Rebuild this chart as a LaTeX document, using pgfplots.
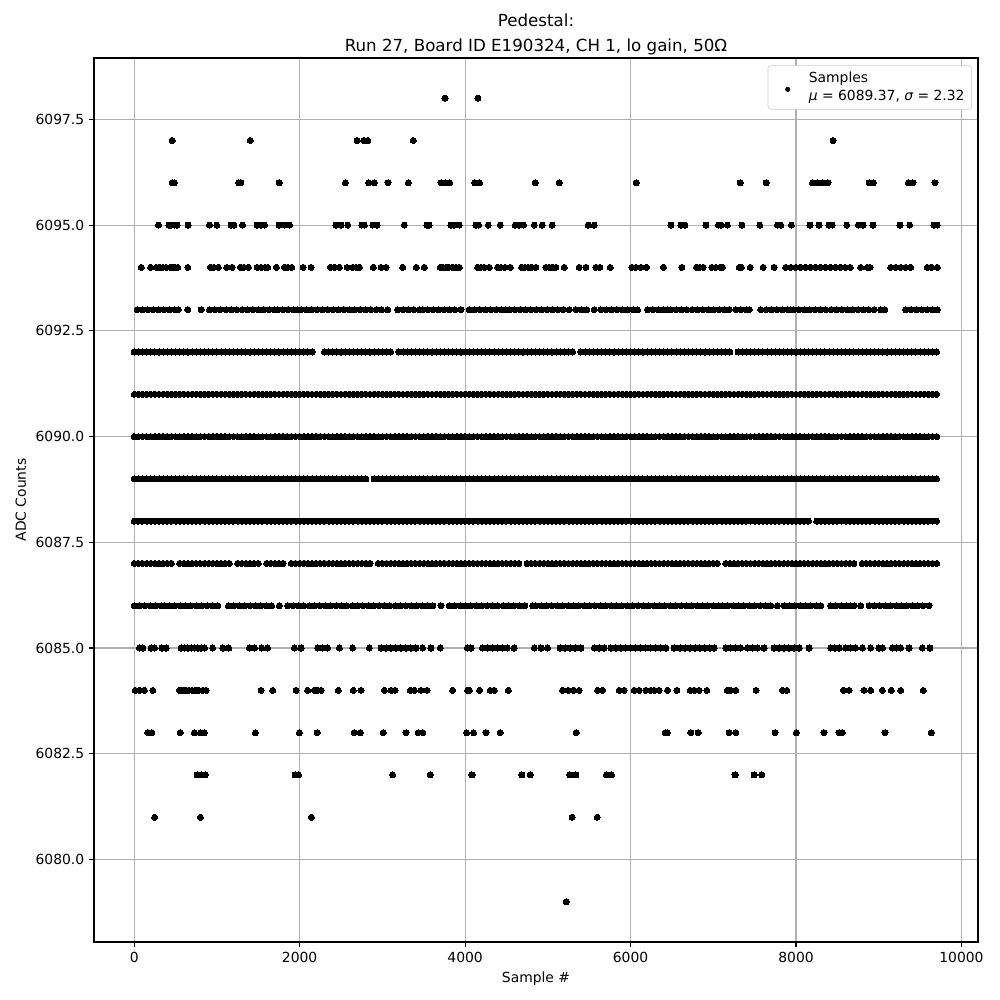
\documentclass[border=0pt]{standalone}
\usepackage{pgfplots}
\pgfplotsset{compat=1.18}
\usepackage{pgfplotstable}
\usepackage{fontspec}
\setmainfont{DejaVu Sans}
\definecolor{gridgray}{HTML}{B0B0B0}
\pgfplotsset{dots/.style={only marks, mark=*, mark size=2.2pt, color=black, mark options={draw=black, fill=black, line width=0pt}}}

\pgfplotstableread{
x a b c d e f
0 6087 6088 6089 6090 6091 6092
50 6087 6088 6089 6090 6091 6092
100 6087 6088 6089 6090 6091 6092
150 6087 6088 6089 6090 6091 6092
200 6087 6088 6089 6090 6091 6092
250 6087 6088 6089 6090 6091 6092
300 6087 6088 6089 6090 6091 6092
350 6087 6088 6089 6090 6091 6092
400 6087 6088 6089 6090 6091 6092
450 6087 6088 6089 6090 6091 6092
500 nan 6088 6089 6090 6091 6092
550 6087 6088 6089 6090 6091 6092
600 6087 6088 6089 6090 6091 6092
650 6087 6088 6089 6090 6091 6092
700 6087 6088 6089 6090 6091 6092
750 6087 6088 6089 6090 6091 6092
800 6087 6088 6089 6090 6091 6092
850 6087 6088 6089 6090 6091 6092
900 6087 6088 6089 6090 6091 6092
950 6087 6088 6089 6090 6091 6092
1000 6087 6088 6089 6090 6091 6092
1050 6087 6088 6089 6090 6091 6092
1100 6087 6088 6089 6090 6091 6092
1150 6087 6088 6089 6090 6091 6092
1200 nan 6088 6089 6090 6091 6092
1250 6087 6088 6089 6090 6091 6092
1300 6087 6088 6089 6090 6091 6092
1350 6087 6088 6089 6090 6091 6092
1400 6087 6088 6089 6090 6091 6092
1450 6087 6088 6089 6090 6091 6092
1500 6087 6088 6089 6090 6091 6092
1550 nan 6088 6089 6090 6091 6092
1600 6087 6088 6089 6090 6091 6092
1650 6087 6088 6089 6090 6091 6092
1700 6087 6088 6089 6090 6091 6092
1750 6087 6088 6089 6090 6091 6092
1800 6087 6088 6089 6090 6091 6092
1850 nan 6088 6089 6090 6091 6092
1900 6087 6088 6089 6090 6091 6092
1950 6087 6088 6089 6090 6091 6092
2000 6087 6088 6089 6090 6091 6092
2050 6087 6088 6089 6090 6091 6092
2100 6087 6088 6089 6090 6091 6092
2150 6087 6088 6089 6090 6091 6092
2200 6087 6088 6089 6090 6091 nan
2250 6087 6088 6089 6090 6091 nan
2300 6087 6088 6089 6090 6091 6092
2350 6087 6088 6089 6090 6091 6092
2400 6087 6088 6089 6090 6091 6092
2450 6087 6088 6089 6090 6091 6092
2500 6087 6088 6089 6090 6091 6092
2550 6087 6088 6089 6090 6091 6092
2600 6087 6088 6089 6090 6091 6092
2650 6087 6088 6089 6090 6091 6092
2700 6087 6088 6089 6090 6091 6092
2750 6087 6088 6089 6090 6091 6092
2800 6087 6088 6089 6090 6091 6092
2850 6087 6088 nan 6090 6091 6092
2900 nan 6088 6089 6090 6091 6092
2950 6087 6088 6089 6090 6091 6092
3000 6087 6088 6089 6090 6091 6092
3050 6087 6088 6089 6090 6091 6092
3100 6087 6088 6089 6090 6091 6092
3150 6087 6088 6089 6090 6091 nan
3200 6087 6088 6089 6090 6091 6092
3250 6087 6088 6089 6090 6091 6092
3300 6087 6088 6089 6090 6091 6092
3350 6087 6088 6089 6090 6091 6092
3400 6087 6088 6089 6090 6091 6092
3450 6087 6088 6089 6090 6091 6092
3500 6087 6088 6089 6090 6091 6092
3550 6087 6088 6089 6090 6091 6092
3600 6087 6088 6089 6090 6091 6092
3650 6087 6088 6089 6090 6091 6092
3700 6087 6088 6089 6090 6091 6092
3750 6087 6088 6089 6090 6091 6092
3800 6087 6088 6089 6090 6091 6092
3850 6087 6088 6089 6090 6091 6092
3900 6087 6088 6089 6090 6091 6092
3950 6087 6088 6089 6090 6091 6092
4000 6087 6088 6089 6090 6091 6092
4050 6087 6088 6089 6090 6091 6092
4100 6087 6088 6089 6090 6091 6092
4150 6087 6088 6089 6090 6091 6092
4200 6087 6088 6089 6090 6091 6092
4250 6087 6088 6089 6090 6091 6092
4300 6087 6088 6089 6090 6091 6092
4350 6087 6088 6089 6090 6091 6092
4400 6087 6088 6089 6090 6091 6092
4450 6087 6088 6089 6090 6091 6092
4500 6087 6088 6089 6090 6091 6092
4550 6087 6088 6089 6090 6091 6092
4600 6087 6088 6089 6090 6091 6092
4650 6087 6088 6089 6090 6091 6092
4700 nan 6088 6089 6090 6091 6092
4750 6087 6088 6089 6090 6091 6092
4800 6087 6088 6089 6090 6091 6092
4850 6087 6088 6089 6090 6091 6092
4900 6087 6088 6089 6090 6091 6092
4950 6087 6088 6089 6090 6091 6092
5000 6087 6088 6089 6090 6091 6092
5050 6087 6088 6089 6090 6091 6092
5100 6087 6088 6089 6090 6091 6092
5150 6087 6088 6089 6090 6091 6092
5200 6087 6088 6089 6090 6091 6092
5250 6087 6088 6089 6090 6091 6092
5300 6087 6088 6089 6090 6091 6092
5350 6087 6088 6089 6090 6091 nan
5400 6087 6088 6089 6090 6091 6092
5450 6087 6088 6089 6090 6091 6092
5500 6087 6088 6089 6090 6091 6092
5550 6087 6088 6089 6090 6091 6092
5600 6087 6088 6089 6090 6091 6092
5650 6087 6088 6089 6090 6091 6092
5700 6087 6088 6089 6090 6091 6092
5750 6087 6088 6089 6090 6091 6092
5800 6087 6088 6089 6090 6091 6092
5850 6087 6088 6089 6090 6091 6092
5900 6087 6088 6089 6090 6091 6092
5950 6087 6088 6089 6090 6091 6092
6000 6087 6088 6089 6090 6091 6092
6050 6087 6088 6089 6090 6091 6092
6100 6087 6088 6089 6090 6091 6092
6150 6087 6088 6089 6090 6091 6092
6200 6087 6088 6089 6090 6091 6092
6250 6087 6088 6089 6090 6091 6092
6300 6087 6088 6089 6090 6091 6092
6350 6087 6088 6089 6090 6091 6092
6400 6087 6088 6089 6090 6091 6092
6450 6087 6088 6089 6090 6091 6092
6500 6087 6088 6089 6090 6091 6092
6550 6087 6088 6089 6090 6091 6092
6600 6087 6088 6089 6090 6091 6092
6650 6087 6088 6089 6090 6091 6092
6700 6087 6088 6089 6090 6091 6092
6750 6087 6088 6089 6090 6091 6092
6800 6087 6088 6089 6090 6091 6092
6850 6087 6088 6089 6090 6091 6092
6900 6087 6088 6089 6090 6091 6092
6950 6087 6088 6089 6090 6091 6092
7000 6087 6088 6089 6090 6091 6092
7050 6087 6088 6089 6090 6091 6092
7100 nan 6088 6089 6090 6091 6092
7150 6087 6088 6089 6090 6091 6092
7200 6087 6088 6089 6090 6091 6092
7250 6087 6088 6089 6090 6091 nan
7300 6087 6088 6089 6090 6091 6092
7350 6087 6088 6089 6090 6091 6092
7400 6087 6088 6089 6090 6091 6092
7450 6087 6088 6089 6090 6091 6092
7500 6087 6088 6089 6090 6091 6092
7550 6087 6088 6089 6090 6091 6092
7600 6087 6088 6089 6090 6091 6092
7650 6087 6088 6089 6090 6091 6092
7700 6087 6088 6089 6090 6091 6092
7750 6087 6088 6089 6090 6091 6092
7800 6087 6088 6089 6090 6091 6092
7850 6087 6088 6089 6090 6091 6092
7900 6087 6088 6089 6090 6091 6092
7950 6087 6088 6089 6090 6091 6092
8000 6087 6088 6089 6090 6091 6092
8050 6087 6088 6089 6090 6091 6092
8100 6087 6088 6089 6090 6091 6092
8150 6087 6088 6089 6090 6091 6092
8200 6087 nan 6089 6090 6091 6092
8250 6087 6088 6089 6090 6091 6092
8300 6087 6088 6089 6090 6091 6092
8350 6087 6088 6089 6090 6091 6092
8400 6087 6088 6089 6090 6091 6092
8450 6087 6088 6089 6090 6091 6092
8500 6087 6088 6089 6090 6091 6092
8550 6087 6088 6089 6090 6091 6092
8600 6087 6088 6089 6090 6091 6092
8650 6087 6088 6089 6090 6091 6092
8700 6087 6088 6089 6090 6091 6092
8750 nan 6088 6089 6090 6091 6092
8800 6087 6088 6089 6090 6091 6092
8850 6087 6088 6089 6090 6091 6092
8900 6087 6088 6089 6090 6091 6092
8950 6087 6088 6089 6090 6091 6092
9000 6087 6088 6089 6090 6091 6092
9050 6087 6088 6089 6090 6091 6092
9100 6087 6088 6089 6090 6091 6092
9150 6087 6088 6089 6090 6091 6092
9200 6087 6088 6089 6090 6091 6092
9250 6087 6088 6089 6090 6091 6092
9300 6087 6088 6089 6090 6091 6092
9350 6087 6088 6089 6090 6091 6092
9400 6087 6088 6089 6090 6091 6092
9450 6087 6088 6089 6090 6091 6092
9500 6087 6088 6089 6090 6091 6092
9550 6087 6088 6089 6090 6091 6092
9600 6087 6088 6089 6090 6091 6092
9650 6087 6088 6089 6090 6091 6092
9700 6087 6088 6089 6090 6091 6092
}\dense

\begin{document}
\begin{tikzpicture}
\begin{axis}[
  at={(0pt,0pt)}, anchor=south west,
  scale only axis, width=636.48pt, height=636.48pt,
  xmin=-486, xmax=10200, ymin=6078.05, ymax=6098.95,
  xtick={0,2000,4000,6000,8000,10000},
  ytick={6080,6082.5,6085,6087.5,6090,6092.5,6095,6097.5},
  scaled ticks=false,
  yticklabel style={/pgf/number format/fixed, /pgf/number format/fixed zerofill, /pgf/number format/precision=1, /pgf/number format/1000 sep={}},
  xticklabel style={/pgf/number format/fixed, /pgf/number format/1000 sep={}},
  /pgf/number format/assume math mode=true,
  tick label style={font=\fontsize{10}{12}\selectfont},
  label style={font=\fontsize{10}{12}\selectfont},
  grid=major, grid style={gridgray, line width=0.8pt},
  tick align=outside, major tick length=3.5pt,
  tick style={black, line width=0.8pt},
  xtick pos=bottom, ytick pos=left,
  axis line style={black, line width=0.8pt},
  xlabel={Sample \#}, ylabel={ADC Counts},
  title={Pedestal:\\Run 27, Board ID E190324, CH 1, lo gain, 50Ω},
  title style={align=center, font=\fontsize{12}{17.3}\selectfont, yshift=-7pt},
  legend style={at={(0.993,0.992)}, anchor=north east, draw=black!20, rounded corners=2pt,
    font=\fontsize{10}{12.5}\selectfont, inner xsep=3pt, inner ysep=3pt, fill=white},
  legend cell align=left,
  legend style={cells={align=left}},
  legend image code/.code={\path (0pt,0pt) (24pt,0pt); \fill[black] (11pt,-1.5pt) circle (1.6pt);},
]
\addplot[dots] table[x=x, y=d] {\dense};
\addlegendentry{Samples\\{\itshape μ} = 6089.37, {\itshape σ} = 2.32}
\addplot[dots, forget plot] table[x=x, y=a] {\dense};
\addplot[dots, forget plot] table[x=x, y=b] {\dense};
\addplot[dots, forget plot] table[x=x, y=c] {\dense};
\addplot[dots, forget plot] table[x=x, y=e] {\dense};
\addplot[dots, forget plot] table[x=x, y=f] {\dense};
% 6093
\addplot[dots, forget plot] coordinates {
(36,6093)(100,6093)(165,6093)(230,6093)(295,6093)(360,6093)(425,6093)(490,6093)(531,6093)(648,6093)(809,6093)
(910,6093)(975,6093)(1040,6093)(1111,6093)(1175,6093)(1240,6093)(1305,6093)(1370,6093)(1435,6093)(1500,6093)(1565,6093)(1630,6093)(1695,6093)(1735,6093)
(1796,6093)(1860,6093)(1925,6093)(1977,6093)(2017,6093)(2080,6093)(2145,6093)(2210,6093)(2275,6093)(2340,6093)(2405,6093)(2470,6093)(2535,6093)(2600,6093)(2665,6093)(2730,6093)(2795,6093)(2860,6093)(2925,6093)(2990,6093)(3064,6093)
(3185,6093)(3250,6093)(3315,6093)(3380,6093)(3446,6093)(3487,6093)(3550,6093)(3615,6093)(3680,6093)(3745,6093)(3810,6093)(3875,6093)(3950,6093)
(4051,6093)(4115,6093)(4180,6093)(4245,6093)(4310,6093)(4375,6093)(4440,6093)(4494,6093)(4534,6093)(4600,6093)(4665,6093)(4730,6093)(4795,6093)(4860,6093)(4925,6093)(4990,6093)(5055,6093)(5120,6093)(5185,6093)(5259,6093)
(5339,6093)(5405,6093)(5470,6093)(5561,6093)(5641,6093)(5705,6093)(5770,6093)(5835,6093)(5900,6093)(5965,6093)(6030,6093)(6084,6093)
(6205,6093)(6270,6093)(6335,6093)(6400,6093)(6447,6093)(6487,6093)(6550,6093)(6615,6093)(6680,6093)(6745,6093)(6810,6093)(6875,6093)(6940,6093)(7005,6093)(7070,6093)(7135,6093)(7191,6093)
(7272,6093)(7335,6093)(7400,6093)(7433,6093)(7574,6093)(7640,6093)(7705,6093)(7770,6093)(7835,6093)(7900,6093)(7937,6093)
(7969,6093)(8035,6093)(8100,6093)(8165,6093)(8230,6093)(8295,6093)(8360,6093)(8425,6093)(8490,6093)(8555,6093)(8620,6093)(8685,6093)(8750,6093)(8815,6093)(8880,6093)(8945,6093)(9023,6093)(9072,6093)
(9326,6093)(9390,6093)(9455,6093)(9520,6093)(9585,6093)(9650,6093)(9710,6093)
};
% 6086
\addplot[dots, forget plot] coordinates {
(0,6086)(65,6086)(130,6086)(195,6086)(260,6086)(325,6086)(366,6086)
(426,6086)(490,6086)(555,6086)(620,6086)(685,6086)(750,6086)(815,6086)(880,6086)(945,6086)(1010,6086)(1140,6086)(1205,6086)(1270,6086)(1335,6086)(1400,6086)(1465,6086)(1530,6086)(1595,6086)(1660,6086)(1755,6086)
(1856,6086)(1920,6086)(1985,6086)(2050,6086)(2115,6086)(2180,6086)(2245,6086)(2310,6086)(2375,6086)(2440,6086)(2505,6086)(2570,6086)(2635,6086)(2700,6086)(2765,6086)(2830,6086)(2895,6086)(2960,6086)(3025,6086)(3090,6086)(3155,6086)(3220,6086)(3285,6086)(3350,6086)(3415,6086)(3480,6086)(3545,6086)(3610,6086)(3708,6086)
(3809,6086)(3875,6086)(3940,6086)(4005,6086)(4070,6086)(4135,6086)(4200,6086)(4265,6086)(4330,6086)(4395,6086)(4460,6086)(4525,6086)(4590,6086)(4654,6086)(4723,6086)(4816,6086)
(4856,6086)(4920,6086)(4985,6086)(5050,6086)(5115,6086)(5180,6086)(5245,6086)(5310,6086)(5375,6086)(5440,6086)(5505,6086)(5570,6086)(5635,6086)(5700,6086)(5765,6086)(5830,6086)(5895,6086)(5960,6086)(6025,6086)(6090,6086)(6155,6086)(6220,6086)(6285,6086)(6350,6086)(6415,6086)(6480,6086)(6545,6086)(6610,6086)(6675,6086)(6740,6086)(6805,6086)(6870,6086)(6935,6086)(7000,6086)(7063,6086)
(7111,6086)(7175,6086)(7240,6086)(7305,6086)(7370,6086)(7435,6086)(7500,6086)(7565,6086)(7630,6086)(7695,6086)(7775,6086)
(7856,6086)(7920,6086)(7985,6086)(8050,6086)(8115,6086)(8180,6086)(8245,6086)(8298,6086)(8419,6086)(8480,6086)(8545,6086)(8610,6086)(8661,6086)(8701,6086)(8782,6086)
(8883,6086)(8950,6086)(9015,6086)(9080,6086)(9145,6086)(9210,6086)(9275,6086)(9340,6086)(9405,6086)(9470,6086)(9535,6086)(9608,6086)
};
% 6094
\addplot[dots, forget plot] coordinates {
(85,6094)(197,6094)(266,6094)(306,6094)(346,6094)(386,6094)(439,6094)(466,6094)(495,6094)(527,6094)(648,6094)(921,6094)(962,6094)(1018,6094)(1119,6094)(1183,6094)(1284,6094)(1324,6094)(1381,6094)(1486,6094)(1534,6094)(1582,6094)(1615,6094)(1719,6094)(1816,6094)(1856,6094)(1905,6094)(2042,6094)(2138,6094)(2372,6094)(2420,6094)(2480,6094)(2573,6094)(2641,6094)(2682,6094)(2722,6094)(2891,6094)(2984,6094)(3044,6094)(3245,6094)(3410,6094)(3506,6094)(3700,6094)(3728,6094)(3769,6094)(3801,6094)(3849,6094)(3890,6094)(3930,6094)(4150,6094)(4191,6094)(4231,6094)(4292,6094)(4393,6094)(4433,6094)(4482,6094)(4546,6094)(4682,6094)(4723,6094)(4763,6094)(4803,6094)(4856,6094)(4977,6094)(5017,6094)(5057,6094)(5098,6094)(5198,6094)(5379,6094)(5460,6094)(5581,6094)(5629,6094)(5754,6094)(6016,6094)(6064,6094)(6125,6094)(6193,6094)(6398,6094)(6620,6094)(6797,6094)(6837,6094)(6878,6094)(6982,6094)(7031,6094)(7083,6094)(7111,6094)(7313,6094)(7341,6094)(7446,6094)(7603,6094)(7735,6094)(7876,6094)(7936,6094)(7996,6094)(8056,6094)(8116,6094)(8176,6094)(8236,6094)(8296,6094)(8356,6094)(8416,6094)(8476,6094)(8536,6094)(8596,6094)(8656,6094)(8782,6094)(8862,6094)(8894,6094)(9145,6094)(9205,6094)(9266,6094)(9326,6094)(9386,6094)(9587,6094)(9636,6094)(9708,6094)
};
% 6095
\addplot[dots, forget plot] coordinates {
(294,6095)(419,6095)(447,6095)(487,6095)(519,6095)(652,6095)(910,6095)(998,6095)(1172,6095)(1204,6095)(1308,6095)(1486,6095)(1534,6095)(1574,6095)(1752,6095)(1816,6095)(1876,6095)(2440,6095)(2500,6095)(2581,6095)(2750,6095)(2782,6095)(2883,6095)(2935,6095)(3265,6095)(3539,6095)(3563,6095)(3829,6095)(3869,6095)(3930,6095)(4131,6095)(4163,6095)(4280,6095)(4425,6095)(4606,6095)(4654,6095)(4707,6095)(4836,6095)(4932,6095)(5053,6095)(5488,6095)(5561,6095)(6487,6095)(6608,6095)(6656,6095)(6910,6095)(7063,6095)(7091,6095)(7170,6095)(7345,6095)(7562,6095)(7775,6095)(7816,6095)(7944,6095)(8169,6095)(8278,6095)(8399,6095)(8439,6095)(8613,6095)(8754,6095)(8810,6095)(8931,6095)(9257,6095)(9374,6095)(9668,6095)(9708,6095)
};
% 6096
\addplot[dots, forget plot] coordinates {
(459,6096)(483,6096)(1265,6096)(1290,6096)(1752,6096)(2553,6096)(2834,6096)(2902,6096)(3068,6096)(3314,6096)(3709,6096)(3760,6096)(3813,6096)(4119,6096)(4175,6096)(4848,6096)(5138,6096)(6068,6096)(7324,6096)(7638,6096)(8198,6096)(8258,6096)(8318,6096)(8386,6096)(8883,6096)(8935,6096)(9358,6096)(9414,6096)(9680,6096)
};
% 6097, 6098
\addplot[dots, forget plot] coordinates {
(459,6097)(1404,6097)(2694,6097)(2775,6097)(2823,6097)(3374,6097)(8448,6097)
(3757,6098)(4155,6098)
};
% 6085
\addplot[dots, forget plot] coordinates {
(64,6085)(104,6085)(205,6085)(246,6085)(334,6085)(386,6085)(568,6085)(610,6085)(650,6085)(690,6085)(730,6085)(770,6085)(810,6085)(850,6085)(949,6085)(1071,6085)(1143,6085)(1392,6085)(1453,6085)(1542,6085)(1614,6085)(1936,6085)(2017,6085)(2218,6085)(2278,6085)(2339,6085)(2480,6085)(2641,6085)(2842,6085)(2984,6085)(3044,6085)(3104,6085)(3164,6085)(3225,6085)(3285,6085)(3345,6085)(3406,6085)(3487,6085)(3587,6085)(3700,6085)(4030,6085)(4071,6085)(4210,6085)(4270,6085)(4330,6085)(4390,6085)(4450,6085)(4510,6085)(4593,6085)(4836,6085)(4917,6085)(4997,6085)(5149,6085)(5209,6085)(5269,6085)(5329,6085)(5399,6085)(5561,6085)(5621,6085)(5681,6085)(5762,6085)(5822,6085)(5882,6085)(5942,6085)(6002,6085)(6062,6085)(6122,6085)(6182,6085)(6242,6085)(6302,6085)(6362,6085)(6426,6085)(6527,6085)(6599,6085)(6659,6085)(6719,6085)(6779,6085)(6839,6085)(6899,6085)(6959,6085)(7010,6085)(7151,6085)(7211,6085)(7271,6085)(7332,6085)(7413,6085)(7473,6085)(7533,6085)(7614,6085)(7735,6085)(7795,6085)(7855,6085)(7915,6085)(7977,6085)(8037,6085)(8158,6085)(8419,6085)(8470,6085)(8520,6085)(8600,6085)(8660,6085)(8721,6085)(8802,6085)(8903,6085)(9003,6085)(9044,6085)(9165,6085)(9215,6085)(9266,6085)(9366,6085)(9526,6085)(9618,6085)
};
% 6084
\addplot[dots, forget plot] coordinates {
(12,6084)(64,6084)(124,6084)(225,6084)(547,6084)(583,6084)(620,6084)(660,6084)(700,6084)(740,6084)(780,6084)(830,6084)(870,6084)(1534,6084)(1675,6084)(1957,6084)(2097,6084)(2178,6084)(2218,6084)(2259,6084)(2467,6084)(2648,6084)(2742,6084)(3024,6084)(3105,6084)(3153,6084)(3338,6084)(3386,6084)(3467,6084)(3539,6084)(3849,6084)(4030,6084)(4051,6084)(4175,6084)(4304,6084)(4352,6084)(4522,6084)(5178,6084)(5245,6084)(5312,6084)(5379,6084)(5601,6084)(5661,6084)(5863,6084)(5923,6084)(6044,6084)(6104,6084)(6185,6084)(6245,6084)(6285,6084)(6345,6084)(6447,6084)(6560,6084)(6721,6084)(6769,6084)(6829,6084)(6922,6084)(7170,6084)(7211,6084)(7272,6084)(7517,6084)(7836,6084)(7888,6084)(8573,6084)(8641,6084)(8822,6084)(8903,6084)(9044,6084)(9152,6084)(9266,6084)(9538,6084)
};
% 6083
\addplot[dots, forget plot] coordinates {
(165,6083)(213,6083)(556,6083)(728,6083)(800,6083)(848,6083)(1465,6083)(1997,6083)(2211,6083)(2661,6083)(2734,6083)(3010,6083)(3286,6083)(3434,6083)(3487,6083)(4018,6083)(4102,6083)(4252,6083)(4425,6083)(5343,6083)(6420,6083)(6445,6083)(6729,6083)(6817,6083)(7191,6083)(7272,6083)(7747,6083)(8005,6083)(8338,6083)(8520,6083)(8560,6083)(9076,6083)(9636,6083)
};
% 6082, 6081, 6079
\addplot[dots, forget plot] coordinates {
(761,6082)(809,6082)(857,6082)(1945,6082)(1985,6082)(3124,6082)(3578,6082)(4083,6082)(4687,6082)(4787,6082)(5267,6082)(5339,6082)(5710,6082)(5770,6082)(7263,6082)(7493,6082)(7586,6082)
(246,6081)(800,6081)(2142,6081)(5294,6081)(5597,6081)
(5222,6079)
};
\end{axis}
\pgfresetboundingbox
\path[use as bounding box] (-67.68pt,-41.76pt) rectangle (652.32pt,678.24pt);
\end{tikzpicture}
\end{document}
